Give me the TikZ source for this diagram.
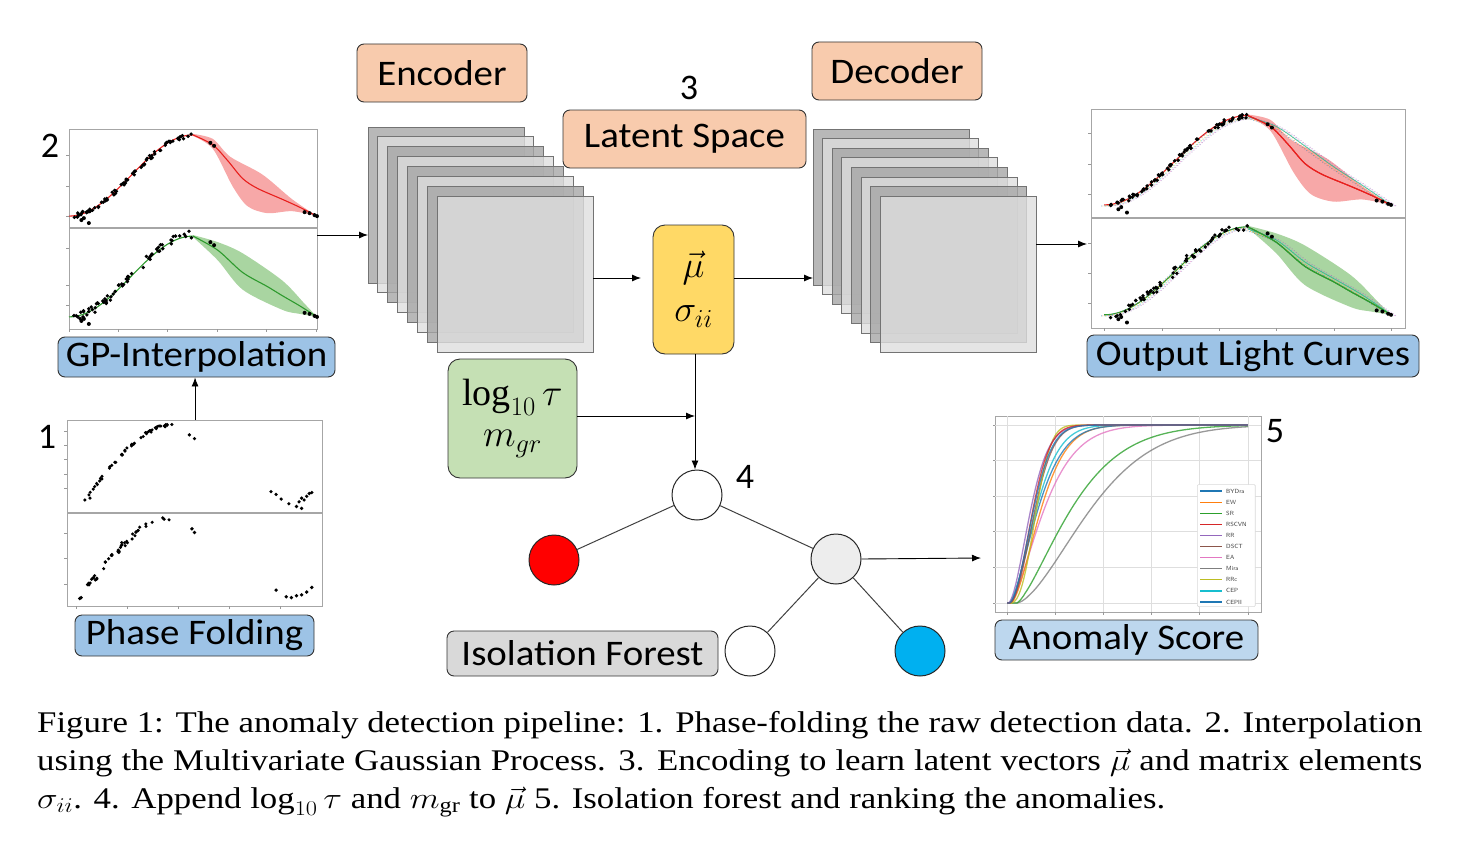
\RequirePackage{fix-cm}
\documentclass[tikz,border=0pt]{standalone}
\usepackage{graphicx}
\usepackage{fontspec}
\setmainfont{Liberation Serif}
\newfontfamily\labfont{Carlito}
\usetikzlibrary{arrows.meta}
\definecolor{peach}{HTML}{F8CBAD}
\definecolor{lblue}{HTML}{9DC3E6}
\definecolor{llblue}{HTML}{BDD7EE}
\definecolor{lyellow}{HTML}{FFD966}
\definecolor{lgreen}{HTML}{C5E0B4}
\definecolor{lgray}{HTML}{D9D9D9}
\definecolor{cgray}{HTML}{EDEDED}
\definecolor{cblue}{HTML}{00B0F0}
\definecolor{stackD}{HTML}{A6A6A6}
\definecolor{stackL}{HTML}{DEDEDE}
\definecolor{bandR}{HTML}{F7A8A8}
\definecolor{bandG}{HTML}{A9D5A1}
\definecolor{meanR}{HTML}{E8201E}
\definecolor{meanG}{HTML}{2E9A2E}
\definecolor{tC0}{HTML}{1F77B4}
\definecolor{tC1}{HTML}{FF7F0E}
\definecolor{tC2}{HTML}{2CA02C}
\definecolor{tC3}{HTML}{D62728}
\definecolor{tC4}{HTML}{9467BD}
\definecolor{tC5}{HTML}{8C564B}
\definecolor{tC6}{HTML}{E377C2}
\definecolor{tC7}{HTML}{7F7F7F}
\definecolor{tC8}{HTML}{BCBD22}
\definecolor{tC9}{HTML}{17BECF}

\newcommand{\lbx}[1]{\scalebox{1.08}[1]{#1}}

% light-curve helpers (inside a normalised scope)
\newcommand{\redlc}{%
  \fill[bandR] plot[smooth] coordinates {(0.5,0.95) (0.58,0.9) (0.65,0.72) (0.78,0.54) (0.9,0.29) (1,0.12)}
     -- plot[smooth] coordinates {(1,0.12) (0.9,0.17) (0.8,0.15) (0.72,0.22) (0.66,0.42) (0.58,0.8) (0.5,0.93)} -- cycle;
  \draw[meanR, line width=1.1pt] plot[domain=0:0.5, samples=30, smooth] (\x,{0.12+0.82*sin(180*\x)*sin(180*\x)})
     -- plot[smooth] coordinates {(0.5,0.94) (0.58,0.84) (0.64,0.68) (0.7,0.5) (0.76,0.4) (0.86,0.29) (0.93,0.21) (1,0.12)};
}
\newcommand{\greenlc}{%
  \fill[bandG] plot[smooth] coordinates {(0.5,0.93) (0.6,0.86) (0.7,0.75) (0.86,0.48) (0.95,0.25) (1,0.12)}
     -- plot[smooth] coordinates {(1,0.12) (0.93,0.15) (0.86,0.19) (0.7,0.39) (0.6,0.68) (0.5,0.91)} -- cycle;
  \draw[meanG, line width=1.1pt] plot[domain=0:0.5, samples=30, smooth] (\x,{0.12+0.8*sin(180*\x)*sin(180*\x)})
     -- plot[smooth] coordinates {(0.5,0.92) (0.6,0.78) (0.7,0.56) (0.8,0.42) (0.86,0.33) (0.93,0.23) (1,0.12)};
}
\newcommand{\lcdots}[2]{% #1 number, #2 noise
  \foreach \k in {1,...,#1}{%
    \pgfmathsetmacro\u{0.02+0.48*rnd}%
    \pgfmathsetmacro\s{sin(180*\u)}%
    \pgfmathsetmacro\v{0.12+0.81*\s*\s+#2*rand}%
    \fill (\u,\v) circle[radius=1.9pt];
  }
  \foreach \u/\v in {0.57/0.86,0.585/0.83,0.95/0.16,0.97/0.15,0.99/0.13,1/0.12,0.05/0.08,0.06/0.1,0.08/0.05}
    \fill (\u,\v) circle[radius=2pt];
}
\newcommand{\recon}[1]{% reconstructions for output plot
  \foreach \c/\d in {tC9/0.008,tC1/-0.006,tC6/0.014,tC0/-0.01,tC8/0.004,tC4/0.018}{%
    \draw[\c, dotted, line width=0.8pt, opacity=0.55, shift={(\d,-0.01)}]
      plot[domain=0:0.5, samples=25, smooth] (\x,{0.12+0.8*sin(180*\x)*sin(180*\x)})
      -- plot[smooth] coordinates {#1};
  }
  \draw[tC9!60!tC2, line width=0.8pt, opacity=0.7] plot[smooth] coordinates {#1};
}

\begin{document}
\begin{tikzpicture}[x=1pt,y=-1pt,
  lbl/.style={draw=black!80, line width=0.9pt, rounded corners=7pt,
     font=\labfont\fontsize{36}{40}\selectfont, inner sep=0pt},
  num/.style={font=\labfont\fontsize{36}{40}\selectfont, inner sep=0pt},
  arr/.style={-{Latex[length=9pt,width=7pt]}, line width=0.9pt, black},
  frm/.style={draw=black!35, line width=1.1pt, inner sep=0pt},
  tick/.style={draw=black!40, line width=0.8pt},
  stk/.style={draw=black!55, line width=0.9pt, fill opacity=0.8},
  circ/.style={circle, draw=black!85, line width=1pt, minimum size=50pt, inner sep=0pt},
  tree/.style={draw=black!75, line width=1pt},
  grd/.style={draw=black!13, line width=1pt},
  mathbox/.style={draw=black!80, line width=0.9pt, rounded corners=12pt, align=center, inner sep=0pt}
]
\useasboundingbox (0,0) rectangle (1463,851);
\pgfmathsetseed{7}

% ---------------- labels ----------------
\node[lbl, fill=peach, minimum width=170pt, minimum height=58pt] (enc) at (442,73) {\lbx{Encoder}};
\node[lbl, fill=peach, minimum width=170pt, minimum height=58pt] (dec) at (897,71) {\lbx{Decoder}};
\node[lbl, fill=peach, minimum width=243pt, minimum height=58pt] (lat) at (684.5,139) {\lbx{Latent Space}};
\node[lbl, fill=lblue, minimum width=277pt, minimum height=40pt] (gpl) at (196.5,357) {\lbx{GP-Interpolation}};
\node[lbl, fill=lblue, minimum width=239pt, minimum height=41pt] (pfl) at (194.5,635.5) {\lbx{Phase Folding}};
\node[lbl, fill=lblue, minimum width=332pt, minimum height=42pt] (outl) at (1253,356) {\lbx{Output Light Curves}};
\node[lbl, fill=llblue, minimum width=263pt, minimum height=40pt] (anl) at (1126.5,640) {\lbx{Anomaly Score}};
\node[lbl, fill=lgray, minimum width=271pt, minimum height=45pt] (ifl) at (582.5,653.5) {\lbx{Isolation Forest}};

\node[num] (n2) at (50,146) {2};
\node[num] (n1) at (47,437) {1};
\node[num] (n3) at (689,88) {3};
\node[num] (n4) at (745,477) {4};
\node[num] (n5) at (1275,431) {5};

% ---------------- encoder / decoder stacks ----------------
\foreach \k/\col in {0/stackD,1/stackL,2/stackD,3/stackL,4/stackD,5/stackL,6/stackD,7/stackL}{
  \filldraw[stk, fill=\col] (368+9.9*\k,127+9.9*\k) rectangle ++(156,156);
  \filldraw[stk, fill=\col] (813+9.6*\k,129+9.6*\k) rectangle ++(156,156);
}
\coordinate (encL) at (368,235);
\coordinate (encR) at (593,278);
\coordinate (decL) at (813,278);
\coordinate (decR) at (1036,244);

% ---------------- latent boxes ----------------
\node[mathbox, fill=lyellow, minimum width=81pt, minimum height=129pt,
      font=\fontsize{37}{46}\selectfont] (mu) at (693.5,289.5)
   {$\vec{\mu}$\\[-2pt]$\sigma_{ii}$};
\node[mathbox, fill=lgreen, minimum width=129pt, minimum height=119pt,
      font=\fontsize{38}{42}\selectfont] (grn) at (512.5,418.5)
   {$\log_{10}\tau$\\[-1pt]$m_{gr}$};

% ---------------- tree ----------------
\node[circ, fill=white] (tc) at (697,495) {};
\node[circ, fill=red] (rc) at (554,560) {};
\node[circ, fill=cgray] (gc) at (836,559) {};
\node[circ, fill=white] (wc) at (750,651) {};
\node[circ, fill=cblue] (bc) at (920,651) {};
\draw[tree] (tc) -- (rc);
\draw[tree] (tc) -- (gc);
\draw[tree] (gc) -- (wc);
\draw[tree] (gc) -- (bc);

% ---------------- GP plot ----------------
\node[frm, minimum width=248pt, minimum height=200pt, anchor=north west] (gp) at (69,129) {};
\draw[frm] (69,228) -- (317,228);
\foreach \yy in {155,186,216,248,285,305} \draw[tick] (69,\yy) -- (66,\yy);
\foreach \xx in {69,118,167,217,266,316} \draw[tick] (\xx,329) -- (\xx,332);
\begin{scope}[shift={(69,228)}, x=248pt, y=99pt]
  \redlc
  \lcdots{75}{0.022}
\end{scope}
\begin{scope}[shift={(69,329)}, x=248pt, y=101pt]
  \greenlc
  \lcdots{65}{0.04}
\end{scope}

% ---------------- phase folding plot ----------------
\node[frm, minimum width=255pt, minimum height=186pt, anchor=north west] (pf) at (67,420) {};
\draw[frm] (67,513) -- (322,513);
\foreach \yy in {431,445,459,474,488,533,558,584} \draw[tick] (67,\yy) -- (64,\yy);
\foreach \xx in {76,127,178,229,280} \draw[tick] (\xx,606) -- (\xx,609);
\begin{scope}[shift={(67,513)}, x=255pt, y=93pt]
  \foreach \k in {1,...,50}{%
    \pgfmathsetmacro\t{rnd}%
    \pgfmathsetmacro\u{0.07+0.35*\t}%
    \pgfmathsetmacro\v{0.14+0.81*sin(90*\t)+0.015*rand}%
    \fill (\u,\v) circle[radius=1.7pt];
  }
  \foreach \u/\v in {0.07/0.14,0.09/0.16,0.48/0.84,0.5/0.8,0.8/0.23,0.82/0.2,0.84/0.15,0.87/0.1,0.9/0.07,0.92/0.05,0.91/0.12,0.93/0.14,0.94/0.18,0.95/0.21,0.96/0.22,0.92/0.16}
    \fill (\u,\v) circle[radius=1.8pt];
\end{scope}
\begin{scope}[shift={(67,606)}, x=255pt, y=93pt]
  \foreach \k in {1,...,45}{%
    \pgfmathsetmacro\t{rnd}%
    \pgfmathsetmacro\u{0.05+0.36*\t}%
    \pgfmathsetmacro\v{0.08+0.86*sin(90*\t)+0.04*rand}%
    \fill (\u,\v) circle[radius=1.7pt];
  }
  \foreach \u/\v in {0.05/0.08,0.055/0.09,0.49/0.83,0.5/0.79,0.82/0.17,0.86/0.1,0.88/0.09,0.9/0.11,0.92/0.12,0.94/0.15,0.96/0.2}
    \fill (\u,\v) circle[radius=1.9pt];
\end{scope}

% ---------------- output light curves ----------------
\node[frm, minimum width=314pt, minimum height=219pt, anchor=north west] (out) at (1091,109) {};
\draw[frm] (1091,218) -- (1405,218);
\foreach \yy in {133,164,194,243,273,303} \draw[tick] (1091,\yy) -- (1088,\yy);
\foreach \xx in {1104,1162,1219,1276,1334,1391} \draw[tick] (\xx,328) -- (\xx,331);
\begin{scope}[shift={(1104,218)}, x=287pt, y=109pt]
  \redlc
  \recon{(0.5,0.93) (0.6,0.84) (0.7,0.66) (0.8,0.47) (0.9,0.3) (1,0.12)}
  \draw[meanR, line width=1.1pt] plot[smooth] coordinates {(0.5,0.94) (0.58,0.84) (0.64,0.68) (0.7,0.5) (0.76,0.4) (0.86,0.29) (0.93,0.21) (1,0.12)};
  \lcdots{85}{0.022}
\end{scope}
\begin{scope}[shift={(1104,328)}, x=287pt, y=110pt]
  \greenlc
  \recon{(0.5,0.9) (0.6,0.8) (0.7,0.6) (0.8,0.45) (0.9,0.3) (1,0.12)}
  \draw[meanG, line width=1.1pt] plot[smooth] coordinates {(0.5,0.92) (0.6,0.78) (0.7,0.56) (0.8,0.42) (0.86,0.33) (0.93,0.23) (1,0.12)};
  \lcdots{65}{0.04}
\end{scope}

% ---------------- anomaly score plot ----------------
\node[frm, minimum width=266pt, minimum height=196pt, anchor=north west] (an) at (995,416) {};
\begin{scope}[shift={(1007,603)}, x=48.2pt, y=178pt]
  \foreach \g in {0,...,5} \draw[grd] (\g,-0.05) -- (\g,1.05);
  \foreach \g in {0,0.2,0.4,0.6,0.8,1} \draw[grd] (-0.25,\g) -- (5.27,\g);
  \foreach \g in {0,...,5} \draw[tick] (\g,-0.05) -- (\g,-0.07);
  \foreach \g in {0,0.2,0.4,0.6,0.8,1} \draw[tick] (-0.25,\g) -- (-0.3,\g);
  \foreach \c/\o/\a/\b in {tC7/0.2/1.84/1.6, tC2/0.2/1.39/1.4, tC6/0.08/0.85/1.4, tC1/0.08/0.75/1.6,
      tC0/0.05/0.72/1.5, tC9/0.05/0.67/1.6, tC5/0.05/0.62/1.9, tC8/0.06/0.62/2.5, tC4/0.03/0.55/1.7,
      tC3/0.05/0.57/1.9, tC0/0.05/0.59/1.8}{%
    \draw[\c, line width=1.3pt, opacity=0.8] (0,0) -- (\o,0)
      -- plot[domain=\o+0.004:5, samples=140] (\x,{1-exp(-min(15,((\x-\o)/\a)^\b))});
  }
  \draw[fill=white, draw=black!15, line width=0.6pt, rounded corners=1pt] (3.95,0.665) rectangle (5.15,-0.02);
\end{scope}
\foreach \c/\t [count=\i from 0] in {tC0/BYDra,tC1/EW,tC2/SR,tC3/RSCVN,tC4/RR,tC5/DSCT,tC6/EA,tC7/Mira,tC8/RRc,tC9/CEP,tC0/CEPII}{
  \draw[\c, line width=1.2pt] (1200,491+11.1*\i) -- (1222,491+11.1*\i);
  \node[anchor=west, inner sep=0pt, font=\sffamily\fontsize{6}{6}\selectfont, text=black!75] at (1226,491+11.1*\i) {\t};
}

% ---------------- connectors ----------------
\coordinate (gpR) at (317,235);
\coordinate (muIn) at (641,278);
\coordinate (outIn) at (1087,244);
\coordinate (join) at (695,416);
\coordinate (anIn) at (981,558);
\draw[arr] (pf.north) -- (pf.north |- gpl.south);
\draw[arr] (gpR) -- (encL);
\draw[arr] (encR) -- (muIn);
\draw[arr] (mu.east |- decL) -- (decL);
\draw[arr] (decR) -- (outIn);
\draw[arr] (mu.south -| join) -- (join |- tc.north);
\draw[arr] (grn.east |- join) -- (join);
\draw[arr] (gc.east) -- (anIn);

% ---------------- caption ----------------
\node[anchor=north west, inner sep=0pt, font=\fontsize{30}{38}\selectfont] (cap) at (37,711)
 {\scalebox{1.16}[1]{\parbox[t]{1194pt}{\fontsize{30}{38}\selectfont\noindent
  Figure 1: The anomaly detection pipeline: 1. Phase-folding the raw detection data. 2. Interpolation\linebreak
  using the Multivariate Gaussian Process. 3. Encoding to learn latent vectors $\vec{\mu}$ and matrix elements\linebreak
  $\sigma_{ii}$. 4. Append $\log_{10}\tau$ and $m_{\rm gr}$ to $\vec{\mu}$ 5. Isolation forest and ranking the anomalies.}}};
\end{tikzpicture}
\end{document}
